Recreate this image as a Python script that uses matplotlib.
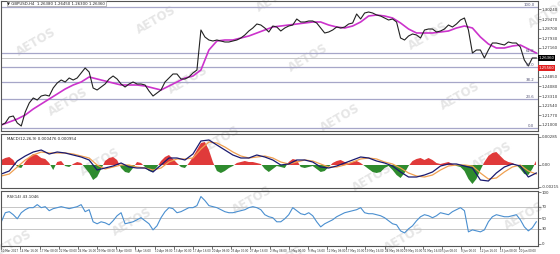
import numpy as np
import matplotlib
matplotlib.use("Agg")
import matplotlib.pyplot as plt

# GBPUSD H4 closes (one value every few bars)
close = [1.2100, 1.2116, 1.2164, 1.2172, 1.2116, 1.2092, 1.2204, 1.2276, 1.2316, 1.2300,
         1.2332, 1.2340, 1.2332, 1.2396, 1.2436, 1.2460, 1.2444, 1.2476, 1.2460, 1.2476,
         1.2516, 1.2556, 1.2524, 1.2396, 1.2380, 1.2404, 1.2428, 1.2468, 1.2492, 1.2468,
         1.2428, 1.2404, 1.2428, 1.2444, 1.2428, 1.2428, 1.2420, 1.2372, 1.2332, 1.2356,
         1.2380, 1.2444, 1.2476, 1.2508, 1.2508, 1.2468, 1.2468, 1.2484, 1.2516, 1.2540,
         1.2860, 1.2804, 1.2780, 1.2772, 1.2780, 1.2772, 1.2764, 1.2764, 1.2772, 1.2780,
         1.2796, 1.2820, 1.2852, 1.2876, 1.2908, 1.2900, 1.2876, 1.2844, 1.2892, 1.2884,
         1.2852, 1.2876, 1.2892, 1.2900, 1.2948, 1.2924, 1.2924, 1.2932, 1.2932, 1.2916,
         1.2876, 1.2836, 1.2844, 1.2860, 1.2884, 1.2876, 1.2884, 1.2908, 1.2916, 1.2988,
         1.2948, 1.2996, 1.3004, 1.2996, 1.2980, 1.2972, 1.2956, 1.2940, 1.2948, 1.2924,
         1.2796, 1.2780, 1.2812, 1.2828, 1.2820, 1.2796, 1.2860, 1.2868, 1.2868, 1.2844,
         1.2852, 1.2868, 1.2900, 1.2884, 1.2908, 1.2940, 1.2956, 1.2860, 1.2676, 1.2700,
         1.2700, 1.2636, 1.2700, 1.2756, 1.2756, 1.2748, 1.2740, 1.2764, 1.2756, 1.2756,
         1.2724, 1.2620, 1.2572, 1.2636, 1.2636]

# moving average (every second point of the close series)
ma = [1.2100, 1.2124, 1.2148, 1.2180, 1.2228, 1.2268, 1.2308, 1.2348, 1.2388, 1.2420,
      1.2444, 1.2484, 1.2468, 1.2452, 1.2436, 1.2420, 1.2420, 1.2420, 1.2412, 1.2396,
      1.2380, 1.2412, 1.2444, 1.2476, 1.2492, 1.2540, 1.2700, 1.2772, 1.2780, 1.2780,
      1.2796, 1.2812, 1.2836, 1.2860, 1.2884, 1.2892, 1.2900, 1.2908, 1.2916, 1.2924,
      1.2924, 1.2900, 1.2884, 1.2876, 1.2892, 1.2924, 1.2972, 1.2980, 1.2972, 1.2956,
      1.2916, 1.2868, 1.2836, 1.2836, 1.2836, 1.2844, 1.2852, 1.2876, 1.2892, 1.2876,
      1.2804, 1.2748, 1.2716, 1.2716, 1.2732, 1.2740, 1.2708, 1.2676]

# fibonacci retracement between swing low and swing high
fib_low = 1.2076
fib_high = 1.3044
fib_levels = [0.0, 23.6, 38.2, 50.0, 61.8, 100.0]
ask_price = 1.2556

# oscillator histogram (same spacing as close)
hist = [0.0005, 0.0007, 0.0008, 0.0005, -0.0002, -0.0003, 0.0003, 0.0008, 0.0011, 0.0010,
        0.0007, 0.0006, 0.0002, -0.0005, 0.0003, 0.0004, -0.0001, -0.0002, 0.0001, 0.0003,
        0.0002, -0.0003, -0.0008, -0.0015, -0.0012, -0.0004, 0.0004, 0.0007, 0.0008, 0.0005,
        -0.0003, -0.0007, -0.0008, -0.0003, 0.0003, 0.0002, -0.0002, -0.0006, -0.0007, -0.0002,
        0.0004, 0.0008, 0.0010, 0.0006, 0.0002, -0.0002, -0.0003, 0.0002, 0.0008, 0.0015,
        0.0022, 0.0023, 0.0015, 0.0003, -0.0006, -0.0008, -0.0006, -0.0003, -0.0001, 0.0002,
        0.0003, 0.0004, 0.0003, 0.0003, 0.0002, 0.0001, -0.0004, -0.0007, -0.0004, -0.0001,
        -0.0002, -0.0003, 0.0003, 0.0006, 0.0005, -0.0002, -0.0003, -0.0002, -0.0001, -0.0004,
        -0.0007, -0.0006, -0.0002, 0.0002, 0.0004, 0.0005, 0.0003, 0.0002, 0.0003, 0.0004,
        0.0002, -0.0001, -0.0004, -0.0007, -0.0008, -0.0007, -0.0003, -0.0001, -0.0005, -0.0010,
        -0.0013, -0.0008, -0.0001, 0.0004, 0.0006, 0.0007, 0.0005, 0.0007, 0.0005, 0.0002,
        0.0001, 0.0002, 0.0003, 0.0001, -0.0001, -0.0002, -0.0006, -0.0014, -0.0019, -0.0014,
        -0.0005, 0.0003, 0.0009, 0.0012, 0.0013, 0.0009, 0.0005, 0.0003, 0.0002, 0.0000,
        -0.0004, -0.0009, -0.0010, -0.0004, 0.0004]

# main and signal lines (every second point)
macd_main = [-0.0009, -0.0006, 0.0004, 0.0009, 0.0013, 0.0015, 0.0011, 0.0013, 0.0012, 0.0010,
             0.0008, 0.0005, -0.0005, -0.0003, -0.0001, 0.0002, -0.0002, -0.0003, -0.0003, -0.0007,
             0.0000, 0.0007, 0.0007, 0.0005, 0.0011, 0.0024, 0.0025, 0.0020, 0.0015, 0.0010,
             0.0007, 0.0007, 0.0010, 0.0008, 0.0005, 0.0000, 0.0001, 0.0005, 0.0005, 0.0003,
             -0.0002, -0.0003, -0.0001, 0.0002, 0.0005, 0.0008, 0.0007, 0.0004, 0.0002, -0.0001,
             -0.0007, -0.0012, -0.0012, -0.0010, -0.0007, -0.0001, 0.0001, 0.0001, -0.0001, -0.0003,
             -0.0015, -0.0016, -0.0008, -0.0002, 0.0001, -0.0001, -0.0012, -0.0008]
macd_signal = [-0.0011, -0.0009, -0.0002, 0.0005, 0.0010, 0.0013, 0.0012, 0.0012, 0.0012, 0.0011,
               0.0009, 0.0007, 0.0000, -0.0004, -0.0002, 0.0000, 0.0000, -0.0002, -0.0003, -0.0005,
               -0.0003, 0.0003, 0.0006, 0.0006, 0.0007, 0.0016, 0.0023, 0.0022, 0.0018, 0.0013,
               0.0009, 0.0007, 0.0008, 0.0009, 0.0007, 0.0003, 0.0001, 0.0003, 0.0005, 0.0004,
               0.0001, -0.0002, -0.0002, 0.0000, 0.0003, 0.0006, 0.0007, 0.0006, 0.0003, 0.0001,
               -0.0003, -0.0008, -0.0011, -0.0012, -0.0010, -0.0005, -0.0001, 0.0000, 0.0000, -0.0001,
               -0.0008, -0.0014, -0.0013, -0.0007, -0.0002, 0.0000, -0.0006, -0.0009]

# RSI(14)
rsi = [43.1, 59.6, 61.5, 56.0, 48.6, 59.6, 65.1, 68.8, 68.8, 74.3,
       68.8, 70.6, 63.3, 67.0, 68.8, 70.6, 68.8, 67.0, 68.8, 70.6,
       74.3, 61.5, 65.1, 43.1, 39.5, 43.1, 41.3, 37.6, 45.0, 54.1,
       59.6, 39.5, 41.3, 43.1, 46.8, 50.5, 45.0, 39.5, 28.4, 35.8,
       50.5, 61.5, 68.8, 67.0, 59.6, 61.5, 65.1, 68.8, 68.8, 72.5,
       89.0, 81.7, 72.5, 70.6, 68.8, 65.1, 61.5, 59.6, 59.6, 61.5,
       63.3, 65.1, 68.8, 70.6, 68.8, 65.1, 56.0, 52.3, 50.5, 43.1,
       43.1, 48.6, 56.0, 68.8, 63.3, 57.8, 56.0, 59.6, 54.1, 43.1,
       33.9, 39.5, 43.1, 46.8, 52.3, 56.0, 59.6, 61.5, 63.3, 65.1,
       68.8, 59.6, 57.8, 57.8, 56.0, 54.1, 50.5, 45.0, 39.5, 37.6,
       26.6, 22.9, 30.3, 35.8, 45.0, 52.3, 56.0, 54.1, 50.5, 54.1,
       59.6, 57.8, 56.0, 61.5, 65.1, 68.8, 63.3, 24.8, 28.4, 26.6,
       24.8, 28.4, 43.1, 52.3, 56.0, 54.1, 52.3, 52.3, 54.1, 56.0,
       46.8, 33.9, 26.6, 32.1, 43.1]
rsi_levels = [30, 50, 70]

date_labels = ["10 Mar 2017", "14 Mar 16:00", "17 Mar 08:00", "22 Mar 00:00", "24 Mar 16:00",
               "29 Mar 08:00", "3 Apr 00:00", "5 Apr 16:00", "10 Apr 08:00", "13 Apr 00:00",
               "17 Apr 16:00", "20 Apr 08:00", "25 Apr 00:00", "27 Apr 16:00", "2 May 08:00",
               "5 May 00:00", "9 May 16:00", "12 May 08:00", "17 May 00:00", "19 May 16:00",
               "24 May 08:00", "29 May 00:00", "31 May 16:00", "5 Jun 08:00", "8 Jun 00:00",
               "12 Jun 16:00", "15 Jun 08:00", "20 Jun 00:00"]

x = np.arange(len(close))
x2 = np.arange(len(ma)) * 2
fs = 2.8
W, H = 560, 254

fig = plt.figure(figsize=(W / 100, H / 100), dpi=100)
fig.patch.set_facecolor("white")

def panel(top, bottom):
    ax = fig.add_axes([0.5 / W, 1 - bottom / H, 537 / W, (bottom - top) / H])
    ax.patch.set_alpha(0)
    for s in ax.spines.values():
        s.set_color("#555555")
        s.set_linewidth(0.8)
    ax.yaxis.tick_right()
    ax.tick_params(axis="y", labelsize=fs, length=2, width=0.4, pad=1, colors="#333333")
    ax.set_xlim(-0.2, 134.3)
    ax.set_xticks([])
    return ax

# watermark, behind everything
for n in range(-1, 6):
    for m in range(-1, 5):
        wx = 36 + 120 * n + 32 * m
        wy = 42 - 22 * n + 60 * m
        if -20 < wx < 580 and -10 < wy < 270:
            fig.text(wx / W, 1 - wy / H, "AETOS", fontsize=8.5, fontweight="bold",
                     color="#e6e6e6", rotation=30, ha="center", va="center", zorder=-5)

# ---- price panel ----
ax1 = panel(1, 131)
ax1.set_ylim(1.2052, 1.3092)
for lv in fib_levels:
    p = fib_low + lv / 100 * (fib_high - fib_low)
    ax1.axhline(p, color="#a6a6c8", lw=0.9)
    ax1.text(133.5, p, "%.1f" % lv, fontsize=fs, ha="right", va="bottom", color="#555577")
ax1.axhline(close[-1], color="#bbbbbb", lw=0.6)
ax1.plot(x2, ma, color="#cc33cc", lw=1.2)
ax1.plot(x, close, color="#222222", lw=0.8)
# price scale, leaving room for the bid / ask boxes
ticks = [t for t in np.arange(1.2100, 1.3050, 0.0077)
         if abs(t - close[-1]) > 0.004 and abs(t - ask_price) > 0.004]
ax1.set_yticks(ticks)
ax1.set_yticklabels(["%.5f" % t for t in ticks])
ax1.text(134.6, close[-1], "%.5f" % close[-1], fontsize=fs, color="white", va="center",
         bbox=dict(boxstyle="square,pad=0.15", fc="black", ec="none"))
ax1.text(134.6, ask_price, "%.5f" % ask_price, fontsize=fs, color="white", va="center",
         bbox=dict(boxstyle="square,pad=0.15", fc="#e02020", ec="none"))
ax1.text(1.5, 1.3072, "\u25bc GBPUSD,H4  1.26380 1.26450 1.26300 1.26360", fontsize=fs,
         va="center", color="#222222",
         bbox=dict(boxstyle="square,pad=0.2", fc="white", ec="#888888", lw=0.4))

# ---- oscillator panel ----
ax2 = panel(134, 188)
ax2.set_ylim(-0.0023, 0.0031)
h = np.array(hist)
ax2.fill_between(x, 0, h, where=h >= 0, interpolate=True, color="#e03a3a", lw=0)
ax2.fill_between(x, 0, h, where=h <= 0, interpolate=True, color="#2e8b2e", lw=0)
ax2.plot(x2, macd_signal, color="#f0a050", lw=0.9)
ax2.plot(x2, macd_main, color="#1a1a70", lw=0.9)
ax2.set_yticks([-0.00215, 0.0, 0.00285])
ax2.set_yticklabels(["-0.00215", "0.00", "0.00285"])
ax2.text(1.5, 0.0026, "MACD(12,26,9) 0.000476 0.000954", fontsize=fs, color="#222222", va="center")

# ---- RSI panel ----
ax3 = panel(190.5, 245.5)
ax3.set_ylim(0, 100)
for lv in rsi_levels:
    ax3.axhline(lv, color="#bbbbbb", lw=0.6)
ax3.plot(x, rsi, color="#4a8fd0", lw=0.8)
ax3.set_yticks([3, 30, 50, 70, 97])
ax3.set_yticklabels(["0", "30", "50", "70", "100"])
ax3.text(1.5, 88, "RSI(14) 43.1046", fontsize=fs, color="#222222", va="center")
ax3.set_xticks(np.arange(len(date_labels)) * 4.8)
ax3.set_xticklabels(date_labels, fontsize=2.0, ha="left", color="#333333")
ax3.tick_params(axis="x", length=2, width=0.4, pad=0.5)

fig.savefig("out.png", dpi=100, facecolor="white")
